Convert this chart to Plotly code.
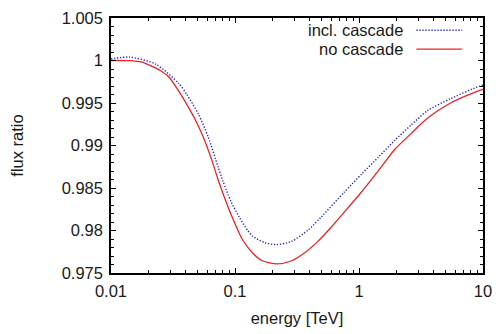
import plotly.graph_objects as go

# data
energy_nc = [0.01, 0.0141, 0.0178, 0.0204, 0.0251, 0.0293, 0.0355, 0.0417, 0.0479, 0.0562,
             0.0646, 0.073, 0.0851, 0.096, 0.1151, 0.138, 0.1656, 0.218, 0.286, 0.365,
             0.466, 0.594, 0.713, 1.0, 1.43, 1.94, 2.63, 3.56, 5.46, 8.87, 10.0]
flux_nc = [1.0000, 0.99998, 0.9998, 0.99945, 0.9988, 0.99806, 0.9963, 0.9946, 0.9930, 0.9908,
           0.9884, 0.9860, 0.9833, 0.9814, 0.97891, 0.97739, 0.97644, 0.97607, 0.97644, 0.97739,
           0.97872, 0.98035, 0.9817, 0.98418, 0.98702, 0.98953, 0.9914, 0.9932, 0.9950, 0.99635, 0.9966]

energy_c = [0.01, 0.0141, 0.023, 0.0352, 0.0409, 0.0507, 0.0608, 0.073, 0.080, 0.0929,
            0.1084, 0.126, 0.138, 0.176, 0.219, 0.286, 0.388, 0.494, 0.759,
            1.06, 1.45, 1.94, 2.63, 3.56, 5.46, 8.87, 10.0]
flux_c = [1.0002, 1.0004, 0.99957, 0.9973, 0.9960, 0.9937, 0.9910, 0.9875, 0.9858, 0.9834,
          0.98156, 0.98005, 0.97935, 0.97853, 0.97834, 0.97872, 0.98005, 0.98156, 0.9845,
          0.9867, 0.9887, 0.9906, 0.9924, 0.9941, 0.9955, 0.99685, 0.9971]

x_tickvals = [0.01, 0.1, 1, 10]
x_ticktext = ["0.01", "0.1", "1", "10"]
y_tickvals = [0.975, 0.98, 0.985, 0.99, 0.995, 1.0, 1.005]
y_ticktext = ["0.975", "0.98", "0.985", "0.99", "0.995", "1", "1.005"]

names = ["incl. cascade", "no cascade"]
blue = "rgb(40,40,190)"
red = "rgb(235,35,40)"

fig = go.Figure()
fig.add_trace(go.Scatter(x=energy_c, y=flux_c, mode="lines", name=names[0],
                         line=dict(color=blue, width=1.4, dash="1.3px,1.7px", shape="spline", smoothing=0.7),
                         showlegend=False))
fig.add_trace(go.Scatter(x=energy_nc, y=flux_nc, mode="lines", name=names[1],
                         line=dict(color=red, width=1.3, shape="spline", smoothing=0.7),
                         showlegend=False))

font = dict(family="Liberation Sans, Arial, sans-serif", size=16.5, color="#1a1a1a")

# legend (gnuplot style: text on the left, sample line on the right)
leg_y = [0.952, 0.878]
for i, (nm, col, dash) in enumerate([(names[0], blue, "1.3px,1.7px"), (names[1], red, "solid")]):
    fig.add_annotation(xref="paper", yref="paper", x=0.791, y=leg_y[i], text=nm,
                       showarrow=False, xanchor="right", yanchor="middle", font=font)
    fig.add_shape(type="line", xref="paper", yref="paper", x0=0.821, x1=0.944,
                  y0=leg_y[i], y1=leg_y[i], line=dict(color=col, width=1.4, dash=dash))

axis_common = dict(showline=True, linecolor="black", linewidth=1.5, mirror="allticks",
                   ticks="inside", ticklen=5, tickcolor="black", tickwidth=1,
                   showgrid=False, zeroline=False, tickfont=font)

fig.update_xaxes(type="log", range=[-2, 1], tickvals=x_tickvals, ticktext=x_ticktext,
                 title=dict(text="energy [TeV]", font=font, standoff=14),
                 ticklabelstandoff=2,
                 minor=dict(ticks="inside", ticklen=3, tickcolor="black", dtick="D1", showgrid=False),
                 **axis_common)
fig.update_yaxes(range=[0.975, 1.005], tickvals=y_tickvals, ticktext=y_ticktext,
                 title=dict(text="flux ratio", font=font, standoff=34),
                 ticklabelstandoff=3,
                 minor=dict(ticks="inside", ticklen=3, tickcolor="black", dtick=0.001, showgrid=False),
                 **axis_common)

fig.update_layout(width=501, height=334, margin=dict(l=111, r=11, t=9, b=61),
                  plot_bgcolor="white", paper_bgcolor="white", font=font)

fig.write_html("out.html")
